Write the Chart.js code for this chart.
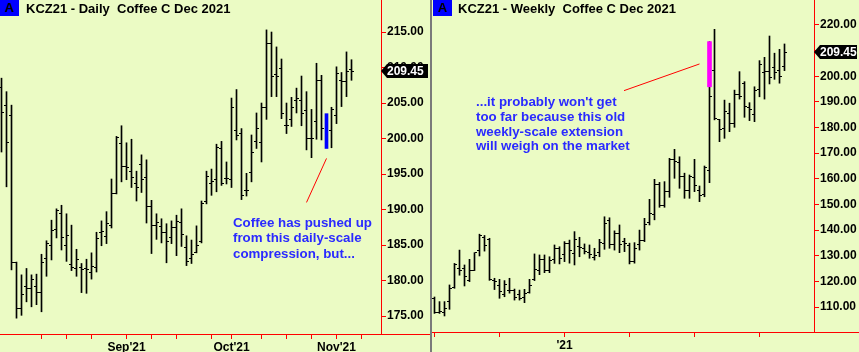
<!DOCTYPE html>
<html>
<head>
<meta charset="utf-8">
<script src="https://cdn.jsdelivr.net/npm/chart.js@4.4.0/dist/chart.umd.min.js"></script>
<style>
  body { margin: 0; background: #ebfbc4; }
  #wrap { position: relative; width: 859px; height: 352px; overflow: hidden; background: #ebfbc4;
          font-family: "Liberation Sans", Arial, sans-serif; }
  .pane { position: absolute; top: 0; }
  .sep { position: absolute; left: 430px; top: 0; width: 2px; height: 352px; background: #7a7a7a; }
  .tag { position: absolute; top: 0; width: 19px; height: 16px; background: #0000ff; color: #000;
         font: bold 13px "Liberation Sans", Arial, sans-serif; line-height: 16px; text-align: center; }
  .title { position: absolute; top: 1px; font: bold 13px "Liberation Sans", Arial, sans-serif;
           line-height: 16px; white-space: pre; color: #000; }
  .note { position: absolute; color: #2a2aff; font: bold 13.3px "Liberation Sans", Arial, sans-serif; white-space: pre; }
</style>
</head>
<body>
<div id="wrap">
  <div class="pane" style="left:0;width:430px;height:352px"><canvas id="dailyChart" width="430" height="352"></canvas></div>
  <div class="pane" style="left:432px;width:427px;height:352px"><canvas id="weeklyChart" width="427" height="352"></canvas></div>
  <div class="sep"></div>
  <div class="tag" style="left:0">A</div>
  <div class="title" style="left:26px">KCZ21 - Daily  Coffee C Dec 2021</div>
  <div class="tag" style="left:433px">A</div>
  <div class="title" style="left:458px">KCZ21 - Weekly  Coffee C Dec 2021</div>
  <div class="note" style="left:233px;top:215px;line-height:15.4px">Coffee has pushed up
from this daily-scale
compression, but...</div>
  <div class="note" style="left:476px;top:95px;line-height:14.8px">...it probably won't get
too far because this old
weekly-scale extension
will weigh on the market</div>
</div>
<script>
// daily bars, Aug - early Nov 2021
const dailyOpen  = [207.2,204.7,203.3,182.6,176.0,179.2,178.9,179.2,178.3,183.1,184.9,187.2,189.4,184.9,182.2,181.7,181.9,181.7,181.1,181.9,186.7,186.2,187.7,192.3,
  199.3,196.1,195.4,193.7,196.3,194.5,190.4,187.7,187.6,186.8,186.0,187.5,188.2,184.7,183.1,183.9,185.5,191.1,193.6,194.2,198.6,194.3,194.2,
  201.2,200.7,192.7,195.2,199.6,199.5,204.3,213.4,209.0,209.9,201.8,202.7,205.3,205.4,204.0,200.0,202.4,208.2,200.5,201.2,203.3,208.2,208.1,209.7];
const dailyHigh  = [208.5,206.6,204.7,182.6,180.8,181.7,180.8,180.9,183.7,185.6,188.5,190.1,190.6,189.4,187.8,184.4,182.4,183.0,183.9,186.8,188.4,189.7,194.3,200.3,
  201.8,199.4,199.9,195.4,197.7,197.0,191.3,189.4,188.7,188.0,188.4,189.2,190.1,186.3,185.7,187.7,191.2,195.4,195.7,199.2,199.6,196.7,205.7,
  206.9,201.4,195.1,200.5,203.6,205.0,215.3,215.0,212.9,211.2,205.0,205.8,207.1,208.8,206.6,204.1,210.6,208.9,203.5,204.4,210.1,209.3,212.2,211.1];
const dailyLow   = [198.1,193.2,181.5,174.7,175.1,177.0,176.3,176.6,175.6,180.6,182.9,186.0,184.3,182.7,181.4,180.6,178.3,178.2,180.2,181.2,184.9,185.2,187.4,192.2,
  193.9,194.2,193.1,191.2,192.4,188.1,183.8,185.8,185.3,182.5,185.2,183.5,184.8,182.1,182.4,183.9,185.3,190.8,192.0,192.5,193.4,193.6,193.1,
  199.8,191.4,191.9,193.9,198.6,196.7,202.7,205.9,205.9,202.8,200.7,201.7,203.6,201.8,198.4,197.3,199.9,199.8,198.6,198.7,202.1,204.5,205.9,208.2];
const dailyClose = [203.6,199.5,182.6,176.0,178.0,178.9,180.1,178.3,182.6,185.2,187.1,189.8,186.0,186.4,181.8,183.0,181.5,181.6,182.0,185.9,186.9,188.1,192.3,200.1,
  196.1,195.9,194.5,193.1,194.2,190.4,187.7,188.2,186.8,185.5,187.5,188.3,186.5,182.7,183.6,185.0,190.8,194.6,193.9,198.8,193.6,194.3,204.3,
  200.4,192.0,192.7,198.0,201.4,204.3,213.4,208.7,208.8,203.5,201.8,204.4,205.6,203.5,200.0,200.0,208.2,201.4,201.0,204.1,209.2,208.1,209.4,209.45];
const dailyMarked = 65;               // compression bar shown in blue
const dailyTicks = [8, 13, 18, 25, 30, 35, 42, 46, 52, 57, 62, 67, 72];
const dailyMonthTicks = [25, 46, 67];
const dailyMonthLabels = ["Sep'21", "Oct'21", "Nov'21"];

// weekly bars, 2020 - 2021
const weeklyOpen  = [113.5,108.0,108.0,112.1,117.5,125.1,125.1,120.5,124.4,132.2,137.3,136.4,120.5,118.5,115.0,116.5,116.3,115.0,113.6,115.8,120.8,124.4,128.6,124.4,
  128.4,132.9,130.3,134.7,131.0,133.5,133.0,131.3,129.3,131.2,134.6,143.9,134.2,138.8,135.5,133.8,127.7,134.2,135.9,142.9,145.9,157.6,149.4,
  155.0,167.4,166.5,161.0,155.5,160.5,155.5,154.0,163.4,202.4,183.0,179.7,185.3,181.7,192.7,197.0,187.9,184.9,194.9,201.4,202.0,203.5,202.4,203.7];
const weeklyHigh  = [113.9,112.1,112.1,118.6,127.0,132.2,126.4,128.6,131.2,138.4,137.9,136.8,121.2,120.8,120.3,121.2,117.0,116.6,116.9,120.8,130.7,130.3,130.3,129.6,
  134.2,133.5,135.5,136.1,139.4,137.2,134.6,134.2,132.9,136.4,145.2,144.8,139.7,142.0,136.8,134.9,135.1,140.0,144.6,152.0,159.8,158.6,158.9,
  168.0,171.5,168.6,162.2,161.5,167.6,157.2,165.0,213.5,218.3,183.2,190.7,189.5,194.6,201.8,197.9,189.7,195.9,206.1,207.4,215.7,209.0,210.5,212.6];
const weeklyLow   = [107.5,107.5,106.5,109.1,117.3,122.4,118.2,119.9,124.2,129.9,131.8,120.4,116.8,113.4,114.0,115.4,112.7,112.7,111.7,115.4,120.3,122.6,123.4,123.4,
  127.0,126.8,127.7,127.1,126.4,129.6,130.7,129.0,128.3,129.6,132.5,132.9,132.2,131.2,131.6,126.8,127.1,132.2,135.5,142.0,144.0,148.9,148.9,
  152.8,160.2,156.3,152.4,152.4,155.0,151.1,153.0,158.5,183.0,174.5,175.8,178.4,180.1,191.1,184.0,182.7,182.3,192.0,191.1,197.0,198.8,197.3,202.2];
const weeklyClose = [108.0,108.2,109.5,117.3,126.4,124.4,121.8,124.4,131.2,137.7,134.0,120.8,119.9,116.0,118.6,116.5,113.6,113.4,115.2,118.4,124.7,128.6,124.4,128.2,
  132.9,129.0,134.9,131.9,136.5,133.2,131.5,130.3,129.9,135.1,142.6,134.2,138.8,134.2,134.9,127.7,132.9,135.9,142.0,146.3,157.6,149.4,155.0,
  167.4,166.6,160.9,155.3,160.8,157.5,153.5,164.5,192.0,183.5,179.3,186.2,181.7,192.7,192.3,188.4,187.1,194.6,204.4,201.8,199.6,201.5,200.1,209.45];
const weeklyMarked = 55;              // extension bar
const weeklyMarkRange = [195.9, 213.5];
const weeklyTicks = [0, 13, 26, 39, 52, 65];
const weeklyYearTicks = [26];
const weeklyYearLabels = ["'21"];

const lastPrice = 209.45;

const RED = '#ff0000';
const FONT = { family: '"Liberation Sans", Arial, sans-serif', size: 12, weight: 'bold' };

function rangeBars(high, low, skip) {
  return high.map((h, i) => ({ x: i, y: [low[i], h] })).filter(p => p.x !== skip);
}

function ohlcTicks(open, close, skip) {
  return {
    id: 'ohlcTicks',
    afterDatasetsDraw(chart) {
      const { ctx, scales: { x, y } } = chart;
      ctx.save();
      ctx.fillStyle = '#000';
      open.forEach((o, i) => {
        if (i === skip) return;
        const px = Math.round(x.getPixelForValue(i) - 0.5);
        ctx.fillRect(px - 2, Math.round(y.getPixelForValue(o) - 0.5), 2, 1);
        ctx.fillRect(px + 1, Math.round(y.getPixelForValue(close[i]) - 0.5), 2, 1);
      });
      ctx.restore();
    }
  };
}

function frame(value, from, to) {
  return {
    id: 'frame',
    afterDraw(chart) {
      const { ctx, chartArea, scales: { x, y } } = chart;
      ctx.save();
      // base line runs across the whole pane
      ctx.fillStyle = RED;
      ctx.fillRect(0, Math.round(chartArea.bottom), chart.width, 1);
      // pointer line
      ctx.strokeStyle = RED;
      ctx.lineWidth = 1;
      ctx.beginPath();
      ctx.moveTo(x.getPixelForValue(from[0]), y.getPixelForValue(from[1]));
      ctx.lineTo(x.getPixelForValue(to[0]), y.getPixelForValue(to[1]));
      ctx.stroke();
      // last price tag
      const r = Math.round(chartArea.right);
      const py = Math.round(y.getPixelForValue(value));
      ctx.fillStyle = '#000';
      ctx.beginPath();
      ctx.moveTo(r, py);
      ctx.lineTo(r + 6, py - 7);
      ctx.lineTo(chart.width - 2, py - 7);
      ctx.lineTo(chart.width - 2, py + 7);
      ctx.lineTo(r + 6, py + 7);
      ctx.closePath();
      ctx.fill();
      ctx.fillStyle = '#fff';
      ctx.font = 'bold 12px "Liberation Sans", Arial, sans-serif';
      ctx.textBaseline = 'middle';
      ctx.fillText(value.toFixed(2), r + 6, py + 1);
      ctx.restore();
    }
  };
}

function xAxis(min, max, tickPos, labelPos, labels, height) {
  return {
    type: 'linear', min, max, offset: false,
    grid: { drawOnChartArea: false, color: RED, tickLength: 5, offset: false },
    border: { color: RED },
    ticks: {
      color: '#000', font: FONT, padding: 1, autoSkip: false, maxRotation: 0,
      callback: v => { const k = labelPos.indexOf(v); return k >= 0 ? labels[k] : ''; }
    },
    afterBuildTicks: s => { s.ticks = tickPos.map(v => ({ value: v })); },
    afterFit: s => { s.height = height; s.paddingLeft = 0; s.paddingRight = 0; }
  };
}

function yAxis(min, max, step, width) {
  return {
    position: 'right', min, max,
    grid: { drawOnChartArea: false, color: RED, tickLength: 5 },
    border: { color: RED },
    ticks: { stepSize: step, includeBounds: false, color: '#000', font: FONT, padding: 1,
             callback: v => v.toFixed(2) },
    afterFit: s => { s.width = width; s.paddingTop = 0; s.paddingBottom = 0; }
  };
}

const baseOptions = {
  responsive: false,
  animation: false,
  devicePixelRatio: 1,
  layout: { padding: 0 },
  plugins: { legend: { display: false }, tooltip: { enabled: false } },
  events: []
};

new Chart(document.getElementById('dailyChart').getContext('2d'), {
  type: 'bar',
  data: {
    datasets: [
      { data: rangeBars(dailyHigh, dailyLow, dailyMarked), backgroundColor: '#000', barThickness: 1, grouped: false, borderWidth: 0, order: 2 },
      { data: [{ x: dailyMarked, y: [dailyLow[dailyMarked], dailyHigh[dailyMarked]] }], backgroundColor: '#0000ff', barThickness: 3, grouped: false, borderWidth: 0, order: 1 }
    ]
  },
  options: Object.assign({}, baseOptions, {
    scales: {
      x: xAxis(-0.3, 75.9, dailyTicks, dailyMonthTicks, dailyMonthLabels, 18),
      y: yAxis(172.47, 219.51, 5, 49)
    }
  }),
  plugins: [ohlcTicks(dailyOpen, dailyClose, dailyMarked), frame(lastPrice, [61.0, 191.0], [65.0, 197.2])]
});

new Chart(document.getElementById('weeklyChart').getContext('2d'), {
  type: 'bar',
  data: {
    datasets: [
      { data: rangeBars(weeklyHigh, weeklyLow, -1), backgroundColor: '#000', barThickness: 1, grouped: false, borderWidth: 0, order: 2 },
      { data: [{ x: weeklyMarked, y: weeklyMarkRange }], backgroundColor: '#ff00ff', barThickness: 4, grouped: false, borderWidth: 0, order: 1 }
    ]
  },
  options: Object.assign({}, baseOptions, {
    scales: {
      x: xAxis(-0.5, 75.9, weeklyTicks, weeklyYearTicks, weeklyYearLabels, 20),
      y: yAxis(100.25, 229.75, 10, 45)
    }
  }),
  plugins: [ohlcTicks(weeklyOpen, weeklyClose, -1), frame(lastPrice, [37.9, 194.4], [53.0, 204.8])]
});
</script>
</body>
</html>
